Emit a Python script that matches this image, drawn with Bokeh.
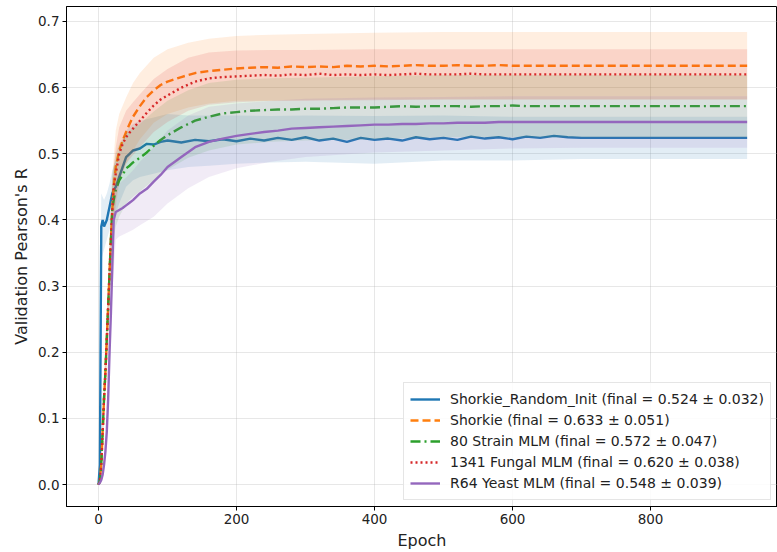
from bokeh.plotting import figure
from bokeh.embed import file_html
from bokeh.resources import INLINE
from bokeh.models import Range1d, FixedTicker, Legend, LegendItem, CustomJSTickFormatter

# ---------------- data ----------------
names = ["Shorkie_Random_Init", "Shorkie", "80 Strain MLM", "1341 Fungal MLM", "R64 Yeast MLM"]
final_mean = [0.524, 0.633, 0.572, 0.620, 0.548]
final_std = [0.032, 0.051, 0.047, 0.038, 0.039]

epochs = [0, 2, 4, 6, 8, 10, 12, 14, 16, 18, 20, 22, 25, 30, 35, 40, 45, 50,
          60, 70, 80, 90, 100,
          120, 140, 160, 180, 200, 220, 240, 260, 280, 300, 320, 340, 360, 380,
          400, 420, 440, 460, 480, 500, 520, 540, 560, 580, 600, 620, 640, 660,
          680, 700, 720, 740, 760, 780, 800, 820, 840, 860, 880, 900, 920, 940]

random_init = [0.00, 0.03, 0.39, 0.40, 0.39, 0.395, 0.40, 0.41, 0.42, 0.43, 0.44, 0.445, 0.45, 0.465, 0.48, 0.495, 0.50, 0.505,
               0.508, 0.515, 0.514, 0.518, 0.520,
               0.517, 0.521, 0.519, 0.522, 0.519, 0.523, 0.520, 0.524, 0.521, 0.525, 0.520, 0.523, 0.518, 0.524,
               0.521, 0.523, 0.520, 0.525, 0.522, 0.524, 0.521, 0.526, 0.523, 0.525, 0.522, 0.526, 0.524, 0.527,
               0.525, 0.524, 0.524, 0.524, 0.524, 0.524, 0.524, 0.524, 0.524, 0.524, 0.524, 0.524, 0.524, 0.524]
shorkie = [0.00, 0.005, 0.03, 0.08, 0.13, 0.17, 0.22, 0.27, 0.32, 0.37, 0.415, 0.45, 0.48, 0.505, 0.52, 0.533, 0.545, 0.556,
           0.572, 0.586, 0.596, 0.604, 0.609,
           0.616, 0.622, 0.625, 0.627, 0.629, 0.630, 0.631, 0.630, 0.632, 0.631, 0.632, 0.631, 0.633, 0.632,
           0.633, 0.632, 0.633, 0.634, 0.633, 0.633, 0.634, 0.633, 0.633, 0.634, 0.633, 0.633, 0.633, 0.633,
           0.633, 0.633, 0.633, 0.633, 0.633, 0.633, 0.633, 0.633, 0.633, 0.633, 0.633, 0.633, 0.633, 0.633]
strain80 = [0.00, 0.005, 0.03, 0.08, 0.13, 0.17, 0.22, 0.27, 0.32, 0.37, 0.415, 0.43, 0.445, 0.46, 0.468, 0.478, 0.482, 0.487,
            0.494, 0.502, 0.512, 0.521, 0.528,
            0.540, 0.550, 0.556, 0.561, 0.563, 0.565, 0.566, 0.567, 0.567, 0.568, 0.568, 0.569, 0.570, 0.570,
            0.570, 0.571, 0.572, 0.571, 0.572, 0.572, 0.572, 0.571, 0.572, 0.572, 0.573, 0.572, 0.572, 0.572,
            0.572, 0.572, 0.572, 0.572, 0.572, 0.572, 0.572, 0.572, 0.572, 0.572, 0.572, 0.572, 0.572, 0.572]
fungal1341 = [0.00, 0.005, 0.03, 0.08, 0.13, 0.17, 0.22, 0.27, 0.32, 0.37, 0.415, 0.45, 0.47, 0.50, 0.515, 0.525, 0.532, 0.538,
              0.550, 0.562, 0.573, 0.582, 0.588,
              0.600, 0.609, 0.614, 0.616, 0.617, 0.618, 0.619, 0.618, 0.620, 0.619, 0.621, 0.619, 0.620, 0.619,
              0.620, 0.619, 0.620, 0.621, 0.620, 0.620, 0.620, 0.621, 0.620, 0.620, 0.620, 0.620, 0.620, 0.620,
              0.620, 0.620, 0.620, 0.620, 0.620, 0.620, 0.620, 0.620, 0.620, 0.620, 0.620, 0.620, 0.620, 0.620]
r64 = [0.00, 0.003, 0.007, 0.015, 0.03, 0.05, 0.08, 0.13, 0.20, 0.26, 0.33, 0.40, 0.412, 0.415, 0.418, 0.422, 0.426, 0.430,
       0.440, 0.447, 0.458, 0.468, 0.480,
       0.495, 0.510, 0.518, 0.523, 0.527, 0.530, 0.533, 0.535, 0.538, 0.539, 0.540, 0.541, 0.542, 0.543,
       0.544, 0.544, 0.545, 0.545, 0.546, 0.546, 0.547, 0.547, 0.547, 0.548, 0.548, 0.548, 0.548, 0.548,
       0.548, 0.548, 0.548, 0.548, 0.548, 0.548, 0.548, 0.548, 0.548, 0.548, 0.548, 0.548, 0.548, 0.548]

band_epochs = [0, 4, 8, 12, 16, 20, 25, 30, 40, 50, 60, 80, 100, 130, 160, 200, 250, 300, 400, 500, 600, 700, 800, 940]

random_init_lo = [0.0, 0.34, 0.355, 0.37, 0.385, 0.40, 0.41, 0.425, 0.45, 0.46, 0.465, 0.47, 0.475, 0.48, 0.482, 0.485,
                  0.487, 0.488, 0.485, 0.49, 0.49, 0.492, 0.492, 0.492]
random_init_hi = [0.0, 0.44, 0.43, 0.44, 0.455, 0.475, 0.49, 0.505, 0.535, 0.545, 0.55, 0.555, 0.56, 0.558, 0.558, 0.558,
                  0.557, 0.558, 0.557, 0.558, 0.556, 0.556, 0.556, 0.556]
shorkie_lo = [0.0, 0.02, 0.10, 0.18, 0.27, 0.36, 0.42, 0.455, 0.485, 0.505, 0.522, 0.547, 0.56, 0.57, 0.576, 0.58,
              0.58, 0.581, 0.582, 0.582, 0.582, 0.582, 0.582, 0.582]
shorkie_hi = [0.0, 0.04, 0.16, 0.26, 0.37, 0.47, 0.535, 0.56, 0.585, 0.607, 0.622, 0.645, 0.658, 0.668, 0.674, 0.678,
              0.68, 0.681, 0.683, 0.684, 0.684, 0.684, 0.684, 0.684]
strain80_lo = [0.0, 0.02, 0.10, 0.18, 0.27, 0.36, 0.39, 0.405, 0.425, 0.435, 0.443, 0.46, 0.476, 0.494, 0.505, 0.514,
               0.518, 0.52, 0.522, 0.525, 0.525, 0.525, 0.525, 0.525]
strain80_hi = [0.0, 0.04, 0.16, 0.26, 0.37, 0.47, 0.50, 0.515, 0.531, 0.539, 0.545, 0.564, 0.58, 0.596, 0.607, 0.612,
               0.614, 0.615, 0.617, 0.619, 0.619, 0.619, 0.619, 0.619]
fungal1341_lo = [0.0, 0.02, 0.11, 0.19, 0.28, 0.37, 0.43, 0.46, 0.485, 0.498, 0.51, 0.533, 0.548, 0.565, 0.574, 0.578,
                 0.58, 0.58, 0.581, 0.582, 0.582, 0.582, 0.582, 0.582]
fungal1341_hi = [0.0, 0.04, 0.15, 0.25, 0.36, 0.46, 0.51, 0.54, 0.565, 0.578, 0.59, 0.613, 0.628, 0.645, 0.653, 0.656,
                 0.657, 0.657, 0.658, 0.658, 0.658, 0.658, 0.658, 0.658]
r64_lo = [0.0, 0.003, 0.02, 0.06, 0.17, 0.29, 0.37, 0.375, 0.38, 0.385, 0.392, 0.405, 0.425, 0.448, 0.465, 0.478,
          0.488, 0.495, 0.502, 0.505, 0.508, 0.509, 0.509, 0.509]
r64_hi = [0.0, 0.01, 0.04, 0.10, 0.23, 0.37, 0.455, 0.455, 0.464, 0.475, 0.488, 0.51, 0.535, 0.558, 0.571, 0.576,
          0.58, 0.583, 0.585, 0.586, 0.587, 0.587, 0.587, 0.587]

x_ticks = [0, 200, 400, 600, 800]
y_ticks = [0.0, 0.1, 0.2, 0.3, 0.4, 0.5, 0.6, 0.7]

# ---------------- styles ----------------
colors = ["#1f77b4", "#ff7f0e", "#2ca02c", "#d62728", "#9467bd"]
dashes = ["solid", "8 4", "10 4 2 4", "2 3", "solid"]
means = [random_init, shorkie, strain80, fungal1341, r64]
los = [random_init_lo, shorkie_lo, strain80_lo, fungal1341_lo, r64_lo]
his = [random_init_hi, shorkie_hi, strain80_hi, fungal1341_hi, r64_hi]

FONT = "DejaVu Sans"

p = figure(width=777, height=552, output_backend="svg", toolbar_location=None,
           x_range=Range1d(-46.4, 984.0), y_range=Range1d(-0.0331, 0.7226),
           min_border_left=66, min_border_right=0, min_border_top=6, min_border_bottom=44)

p.outline_line_color = "black"
p.outline_line_width = 1
p.background_fill_color = "white"
p.border_fill_color = "white"

for ax in (p.xaxis[0], p.yaxis[0]):
    ax.major_label_text_font = FONT
    ax.major_label_text_font_size = "13.5px"
    ax.major_label_text_color = "#222222"
    ax.axis_label_text_font = FONT
    ax.axis_label_text_font_size = "16px"
    ax.axis_label_text_font_style = "normal"
    ax.axis_label_text_color = "#222222"
    ax.minor_tick_line_color = None
    ax.major_tick_out = 4
    ax.major_tick_in = 0
    ax.major_label_standoff = 3
    ax.axis_label_standoff = 4
    ax.axis_line_color = "black"

p.xaxis.ticker = FixedTicker(ticks=x_ticks)
p.yaxis.ticker = FixedTicker(ticks=y_ticks)
p.yaxis.formatter = CustomJSTickFormatter(code="return tick.toFixed(1);")
p.xaxis.axis_label = "Epoch"
p.yaxis.axis_label = "Validation Pearson's R"

p.grid.grid_line_color = "#b0b0b0"
p.grid.grid_line_alpha = 0.3
p.grid.grid_line_width = 1

items = []
for i in range(5):
    p.varea(x=band_epochs, y1=los[i], y2=his[i], fill_color=colors[i], fill_alpha=0.13)
    r = p.line(epochs, means[i], line_color=colors[i], line_width=2.4, line_dash=dashes[i])
    label = f"{names[i]} (final = {final_mean[i]:.3f} \u00b1 {final_std[i]:.3f})"
    items.append(LegendItem(label=label, renderers=[r]))

legend = Legend(items=items, location="bottom_right")
legend.label_text_font = FONT
legend.label_text_font_size = "14px"
legend.label_text_color = "#222222"
legend.label_standoff = 10
legend.glyph_width = 30
legend.glyph_height = 20
legend.label_height = 20
legend.spacing = 1
legend.padding = 6
legend.margin = 6
legend.border_line_color = "#cccccc"
legend.border_line_width = 1
legend.background_fill_alpha = 0.85
p.add_layout(legend)

open("out.html", "w").write(file_html(p, INLINE))
